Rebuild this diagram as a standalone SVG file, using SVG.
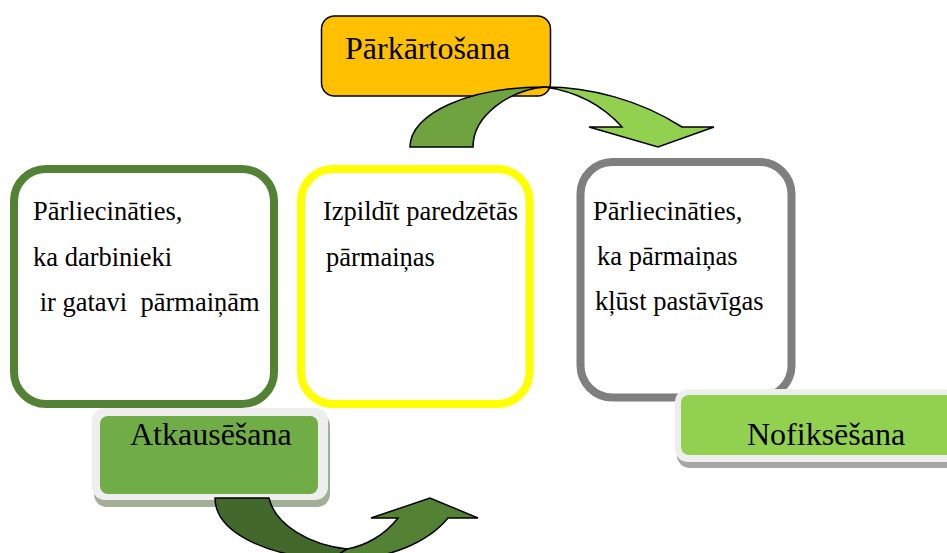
<svg xmlns="http://www.w3.org/2000/svg" width="947" height="553" viewBox="0 0 947 553">
<style>
text{font-family:"Liberation Serif","Times New Roman",serif;fill:#000}
.body{font-size:26.5px}
.big{font-size:32px}
.card{fill:#fff;stroke-width:8}
.arr{stroke:#000;stroke-width:1.5;stroke-linejoin:miter}
.frame{fill:#EEEEEE}
</style>
<rect width="947" height="553" fill="#fff"/>
<g id="box-left">
<rect class="card" x="14" y="169" width="260" height="235" rx="32" stroke="#548235"/>
<text class="body" x="33" y="220">Pārliecināties,</text>
<text class="body" x="33" y="266">ka darbinieki</text>
<text class="body" x="33" y="311" xml:space="preserve"> ir gatavi  pārmaiņām</text>
</g>
<g id="box-middle">
<rect class="card" x="301" y="169" width="228.5" height="235" rx="32" stroke="#FFFF00"/>
<text class="body" x="323" y="220">Izpildīt paredzētās</text>
<text class="body" x="326" y="266">pārmaiņas</text>
</g>
<g id="box-right">
<rect class="card" x="580.5" y="162" width="211" height="235.5" rx="32" stroke="#7F7F7F"/>
<text class="body" x="593" y="220">Pārliecināties,</text>
<text class="body" x="597" y="265">ka pārmaiņas</text>
<text class="body" x="595" y="310">kļūst pastāvīgas</text>
</g>
<g id="parkartosana">
<rect x="321.5" y="16" width="229" height="80" rx="13" fill="#FFC000" stroke="#000" stroke-width="1.5"/>
<text class="big" x="345" y="59">Pārkārtošana</text>
</g>
<g id="atkausesana">
<rect x="94" y="413" width="236" height="94" rx="13" fill="#A3AE96"/>
<rect class="frame" x="92" y="408" width="236" height="92" rx="13"/>
<rect x="100" y="416" width="218" height="78" rx="8" fill="#70AD47"/>
<text class="big" x="130" y="445">Atkausēšana</text>
</g>
<g id="nofiksesana">
<rect x="677" y="394" width="290" height="74" rx="13" fill="#A6A6A6"/>
<rect class="frame" x="675" y="389" width="290" height="73" rx="13"/>
<rect x="681" y="395" width="280" height="60" rx="8" fill="#92D050"/>
<text class="big" x="747" y="445">Nofiksēšana</text>
</g>
<g id="connectors">
<path class="arr" fill="#6FA33F" d="M410,147 C410,113 470,87 545,87 C510,90 473,115 473,147 Z"/>
<path class="arr" fill="#92D050" d="M545,87 C590,87 640,100 682,127 L714,127 L658,147 L589,127 L622,127 C605,108 580,92 545,87 Z"/>
<path class="arr" fill="#43682B" d="M215,498 L269,498 C275,525 310,545 347,549 L330,560 C260,555 215,530 215,498 Z"/>
<path class="arr" fill="#548235" d="M347,549 C365,546 385,535 398,518 L371,518 L430,498 L478,518 L448,518 C430,540 390,562 330,560 Z"/>
</g>
</svg>
